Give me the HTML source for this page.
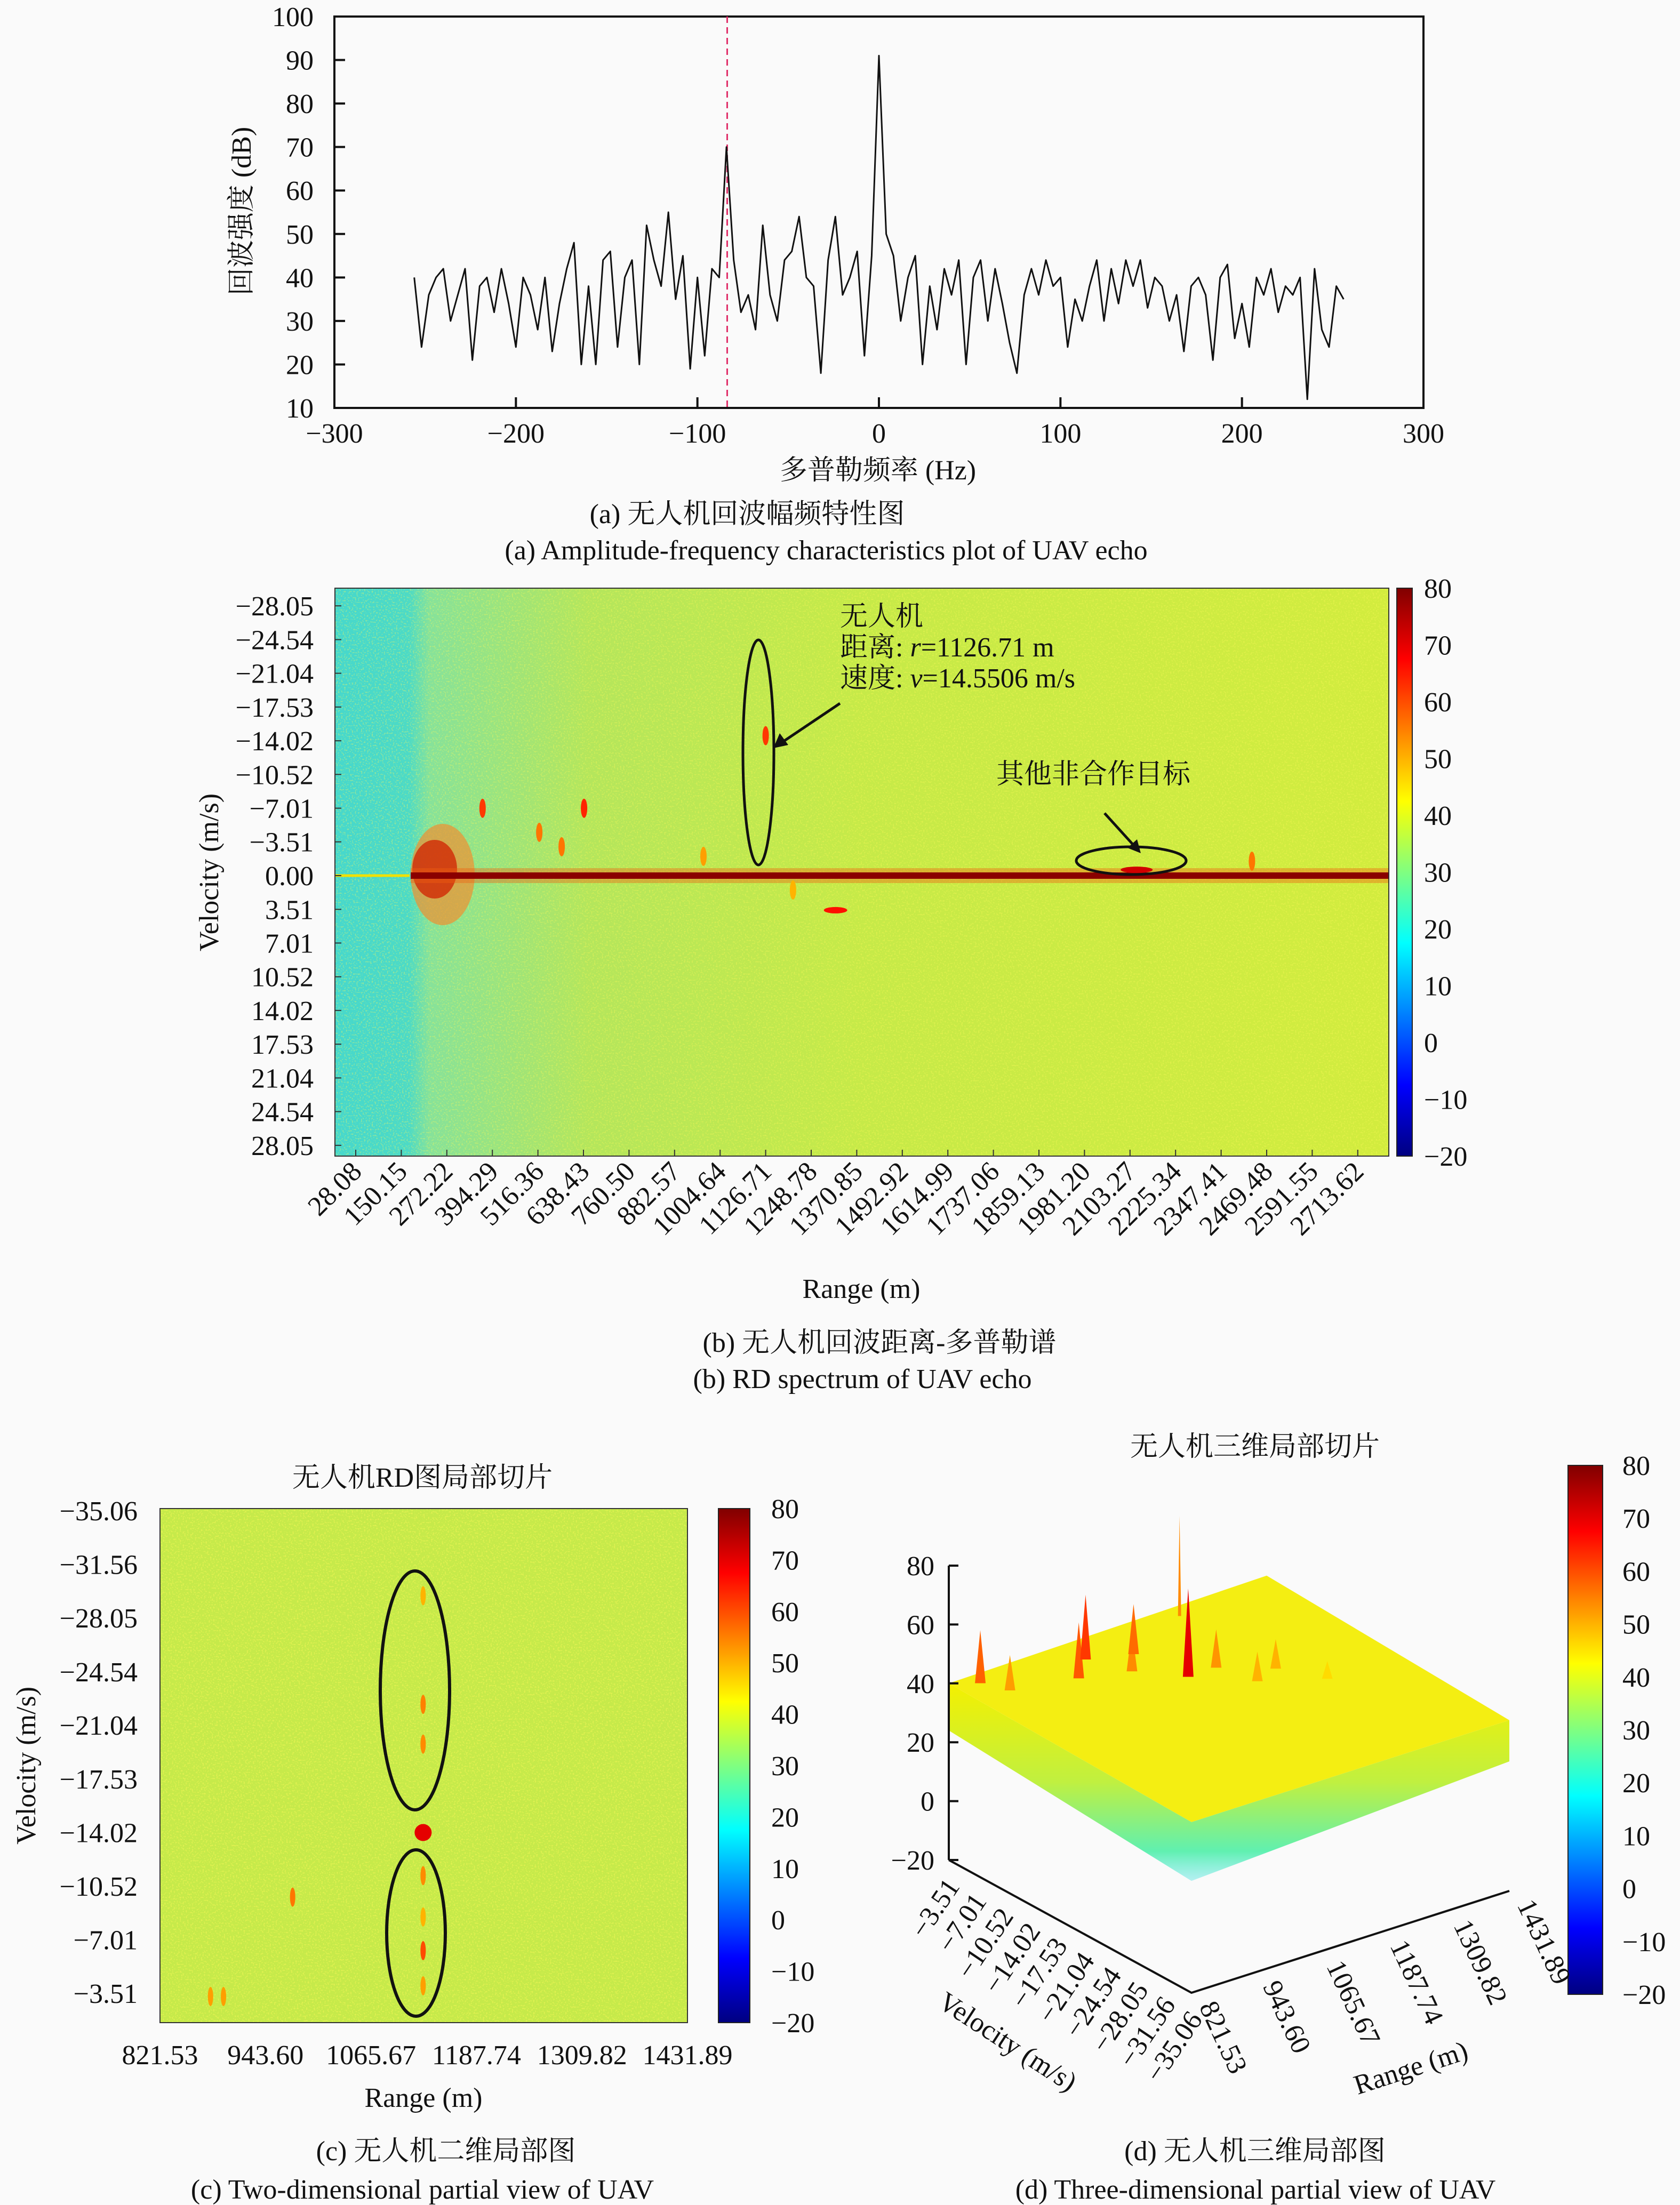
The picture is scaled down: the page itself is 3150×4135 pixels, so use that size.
<!DOCTYPE html>
<html><head><meta charset="utf-8"><style>
html,body{margin:0;padding:0;background:#fafafa}
svg{display:block}
text{font-family:"Liberation Serif","Noto Serif CJK SC","Noto Sans CJK SC",serif;fill:#111}
</style></head><body>
<svg id="fig" xmlns="http://www.w3.org/2000/svg" width="3150" height="4135" viewBox="0 0 3150 4135">
<defs>
<linearGradient id="jet" x1="0" y1="0" x2="0" y2="1">
<stop offset="0" stop-color="#800000"/><stop offset="0.125" stop-color="#ff0000"/><stop offset="0.25" stop-color="#ff8000"/><stop offset="0.375" stop-color="#ffff00"/><stop offset="0.5" stop-color="#80ff80"/><stop offset="0.625" stop-color="#00ffff"/><stop offset="0.75" stop-color="#0080ff"/><stop offset="0.875" stop-color="#0000ff"/><stop offset="1" stop-color="#000080"/>
</linearGradient>
<linearGradient id="bgB" x1="0" y1="0" x2="1" y2="0">
<stop offset="0" stop-color="#46d8cc"/><stop offset="0.07" stop-color="#4cdac6"/><stop offset="0.09" stop-color="#86e29a"/><stop offset="0.24" stop-color="#b4e65c"/><stop offset="0.5" stop-color="#c6ea48"/><stop offset="1" stop-color="#d2ec3e"/>
</linearGradient>
<linearGradient id="skirt" x1="0" y1="0" x2="0" y2="1">
<stop offset="0" stop-color="#f4f000"/><stop offset="0.5" stop-color="#c0f040"/><stop offset="0.85" stop-color="#60f0b0"/><stop offset="1" stop-color="#70e8e8" stop-opacity="0.5"/>
</linearGradient>
<filter id="speck" x="0" y="0" width="1" height="1"><feTurbulence type="fractalNoise" baseFrequency="0.35" numOctaves="1" seed="3"/><feColorMatrix values="0 0 0 0 1  0 0 0 0 0.95  0 0 0 0 0.1  0 0 0 6 -3.2"/></filter>
</defs>

<g id="pa">
<rect x="627" y="31" width="2042" height="734" fill="none" stroke="#111" stroke-width="4"/>
<text x="470" y="396" font-size="52" text-anchor="middle" transform="rotate(-90 470 396)">回波强度 (dB)</text>
<text x="1646" y="899" font-size="52" text-anchor="middle">多普勒频率 (Hz)</text>
<text x="1401" y="981" font-size="52" text-anchor="middle">(a) 无人机回波幅频特性图</text>
<text x="1549" y="1049" font-size="52" text-anchor="middle">(a) Amplitude-frequency characteristics plot of UAV echo</text>
</g>

<g id="pb">
<rect x="628" y="1103" width="1976" height="1065" fill="url(#bgB)"/>
<rect x="628" y="1103" width="1976" height="1065" filter="url(#speck)" opacity="0.35"/>
<g id="pbMarks"></g>
<rect x="628" y="1103" width="1976" height="1065" fill="none" stroke="#333" stroke-width="2"/>
<rect x="2619" y="1103" width="29" height="1065" fill="url(#jet)" stroke="#222" stroke-width="2"/>
<text x="409" y="1636" font-size="52" text-anchor="middle" transform="rotate(-90 409 1636)">Velocity (m/s)</text>
<text x="1615" y="2434" font-size="52" text-anchor="middle">Range (m)</text>
<text x="1649" y="2535" font-size="52" text-anchor="middle">(b) 无人机回波距离-多普勒谱</text>
<text x="1617" y="2603" font-size="52" text-anchor="middle">(b) RD spectrum of UAV echo</text>
<ellipse cx="1422" cy="1411" rx="29" ry="211" fill="none" stroke="#111" stroke-width="5"/>
<line x1="1575" y1="1319" x2="1465" y2="1393" stroke="#111" stroke-width="5"/>
<polygon points="1450,1403 1462,1375 1478,1397" fill="#111"/>
<text x="1575" y="1173" font-size="52">无人机</text>
<text x="1575" y="1231" font-size="52">距离: <tspan font-style="italic">r</tspan>=1126.71 m</text>
<text x="1575" y="1289" font-size="52">速度: <tspan font-style="italic">v</tspan>=14.5506 m/s</text>
<ellipse cx="2121" cy="1614" rx="103" ry="26" fill="none" stroke="#111" stroke-width="5"/>
<line x1="2071" y1="1525" x2="2130" y2="1590" stroke="#111" stroke-width="5"/>
<polygon points="2139,1600 2114,1590 2132,1574" fill="#111"/>
<text x="1868" y="1469" font-size="52">其他非合作目标</text>
</g>

<g id="pc">
<text x="792" y="2788" font-size="52" text-anchor="middle">无人机RD图局部切片</text>
<rect x="300" y="2829" width="989" height="964" fill="#c6ea4a"/>
<rect x="300" y="2829" width="989" height="964" filter="url(#speck)" opacity="0.45"/>
<g id="pcMarks"></g>
<rect x="300" y="2829" width="989" height="964" fill="none" stroke="#333" stroke-width="2"/>
<ellipse cx="778" cy="3170" rx="65" ry="224" fill="none" stroke="#111" stroke-width="6"/>
<ellipse cx="780" cy="3625" rx="55" ry="156" fill="none" stroke="#111" stroke-width="6"/>
<rect x="1347" y="2829" width="59" height="964" fill="url(#jet)" stroke="#222" stroke-width="2"/>
<text x="66" y="3311" font-size="52" text-anchor="middle" transform="rotate(-90 66 3311)">Velocity (m/s)</text>
<text x="794" y="3951" font-size="52" text-anchor="middle">Range (m)</text>
<text x="836" y="4051" font-size="52" text-anchor="middle">(c) 无人机二维局部图</text>
<text x="792" y="4123" font-size="52" text-anchor="middle">(c) Two-dimensional partial view of UAV</text>
</g>

<g id="pd">
<text x="2353" y="2730" font-size="52" text-anchor="middle">无人机三维局部切片</text>
<g id="pdMarks"></g>
<rect x="2940" y="2748" width="65" height="992" fill="url(#jet)" stroke="#222" stroke-width="2"/>
<text x="1890" y="3846" font-size="52" text-anchor="middle" transform="rotate(33 1890 3828)">Velocity (m/s)</text>
<text x="2645" y="3895" font-size="52" text-anchor="middle" transform="rotate(-18 2645 3877)">Range (m)</text>
<text x="2353" y="4051" font-size="52" text-anchor="middle">(d) 无人机三维局部图</text>
<text x="2354" y="4123" font-size="52" text-anchor="middle">(d) Three-dimensional partial view of UAV</text>
</g>
</svg>
<script>
const freqStart = -256, freqStep = 4;
const echoDb = [40,24,36,40,42,30,36,42,21,38,40,32,42,34,24,40,36,28,40,23,34,42,48,20,38,20,44,46,24,40,44,20,52,44,38,55,35,45,19,40,22,42,40,70,44,32,36,28,52,36,30,44,46,54,40,38,18,44,54,36,40,46,22,45,91,50,45,30,40,45,20,38,28,42,36,44,20,40,44,30,42,34,25,18,36,42,36,44,38,40,24,35,30,38,44,30,42,34,44,38,44,33,40,38,30,36,23,38,40,36,21,40,43,26,34,24,40,36,42,32,38,36,40,12,42,28,24,38,35];
const markerFreq = -83.6;
const xTicksA = [-300,-200,-100,0,100,200,300];
const yTicksA = [10,20,30,40,50,60,70,80,90,100];
const velTicksB = [-28.05,-24.54,-21.04,-17.53,-14.02,-10.52,-7.01,-3.51,0.00,3.51,7.01,10.52,14.02,17.53,21.04,24.54,28.05];
const rangeTicksB = [28.08,150.15,272.22,394.29,516.36,638.43,760.50,882.57,1004.64,1126.71,1248.78,1370.85,1492.92,1614.99,1737.06,1859.13,1981.20,2103.27,2225.34,2347.41,2469.48,2591.55,2713.62];
const cbTicks = [80,70,60,50,40,30,20,10,0,-10,-20];
const tgtRange = [1126.71, 2121, 368, 640, 580, 520, 1314, 1200, 2430, 960];
const tgtVel = [-14.55, -0.6, -7.0, -7.0, -3.0, -4.5, 3.6, 1.5, -1.5, -2.0];
const tgtDb = [62, 72, 62, 64, 56, 56, 66, 50, 56, 52];
const velTicksC = [-35.06,-31.56,-28.05,-24.54,-21.04,-17.53,-14.02,-10.52,-7.01,-3.51];
const rangeTicksC = [821.53,943.60,1065.67,1187.74,1309.82,1431.89];
const sliceRange = [1126, 1126, 1126, 1126, 1126, 1126, 1126, 1126, 975, 880, 895];
const sliceVel = [-14.02, -22.4, -19.8, -11.2, -6.3, -4.0, -29.5, -8.5, -9.8, -3.3, -3.3];
const sliceDb = [70, 55, 54, 54, 60, 52, 50, 50, 56, 52, 52];
const zTicksD = [-20,0,20,40,60,80];
const velTicksD = [-3.51,-7.01,-10.52,-14.02,-17.53,-21.04,-24.54,-28.05,-31.56,-35.06];
const rangeTicksD = [821.53,943.60,1065.67,1187.74,1309.82,1431.89];
const peakRange = [1126, 860, 880, 990, 1040, 1070, 1110, 1180, 1200, 1250, 1290, 1250];
const peakVel = [-14.02, -5.0, -7.5, -9.0, -6.5, -10.5, -8.0, -14.0, -18.0, -17.0, -21.0, -4.5];
const peakDb = [70, 58, 52, 59, 62, 54, 57, 53, 50, 50, 46, 74];

const NS = 'http://www.w3.org/2000/svg';
function mk(tag, attrs, parent){const e=document.createElementNS(NS,tag);for(const k in attrs)e.setAttribute(k,attrs[k]);(parent||document.getElementById('fig')).appendChild(e);return e;}
function fmt(v,d){const s=Math.abs(v).toFixed(d);return (v<0?'\u2212':'')+s;}
function jet(v){const t=Math.max(0,Math.min(1,(v+20)/100));
 const r=Math.max(0,Math.min(1,Math.min(4*t-1.5,-4*t+4.5))),g=Math.max(0,Math.min(1,Math.min(4*t-0.5,-4*t+3.5))),b=Math.max(0,Math.min(1,Math.min(4*t+0.5,-4*t+2.5)));
 return 'rgb('+Math.round(r*255)+','+Math.round(g*255)+','+Math.round(b*255)+')';}

const pa=document.getElementById('pa');
const xA=f=>627+(f+300)/600*2042, yA=v=>31+(100-v)/90*734;
xTicksA.forEach(t=>{
 const l=mk('line',{x1:xA(t),y1:765,x2:xA(t),y2:745,stroke:'#111','stroke-width':4},pa);
 
 
 const tx=mk('text',{x:xA(t),y:830,'font-size':52,'text-anchor':'middle'},pa);tx.textContent=fmt(t,0);
 
 
});
yTicksA.forEach(t=>{
 const l=mk('line',{x1:627,y1:yA(t),x2:647,y2:yA(t),stroke:'#111','stroke-width':4},pa);
 
 
 const tx=mk('text',{x:588,y:yA(t)+18,'font-size':52,'text-anchor':'end'},pa);tx.textContent=t;
 
 
});
const mline=mk('line',{x1:xA(markerFreq),y1:31,x2:xA(markerFreq),y2:765,stroke:'#e0306a','stroke-width':3,'stroke-dasharray':'12,8'},pa);


const pts=echoDb.map((v,i)=>xA(freqStart+i*freqStep).toFixed(1)+','+yA(v).toFixed(1)).join(' ');
const sp=mk('polyline',{points:pts,fill:'none',stroke:'#111','stroke-width':3,'stroke-linejoin':'round'},pa);



const pb=document.getElementById('pb'), pbm=document.getElementById('pbMarks');
const xB=r=>667+(r-28.08)/122.07*85.4, yB=v=>1642+v*(63.3/3.51);
const clut=mk('ellipse',{cx:830,cy:1640,rx:60,ry:95,fill:'#f09030',opacity:0.7},pbm);


const clut2=mk('ellipse',{cx:815,cy:1630,rx:42,ry:55,fill:'#d02000',opacity:0.75},pbm);


const zy=mk('line',{x1:628,y1:yB(0),x2:768,y2:yB(0),stroke:'#f0e000','stroke-width':5},pbm);


const zl2=mk('rect',{x:770,y:yB(0)-14,width:1834,height:28,fill:'#f06010',opacity:0.4},pbm);


const zl=mk('rect',{x:770,y:yB(0)-6,width:1834,height:12,fill:'#8a0000'},pbm);


tgtRange.forEach((r,i)=>{
 const e=mk('ellipse',{cx:xB(r),cy:yB(tgtVel[i]),rx:i===1?30:(i===6?22:6),ry:i===1?6:(i===6?6:18),fill:jet(tgtDb[i])},pbm);
 
 
});
velTicksB.forEach(v=>{
 const tx=mk('text',{x:588,y:yB(v)+18,'font-size':52,'text-anchor':'end'},pb);tx.textContent=fmt(v,2);
 
 
 const l=mk('line',{x1:628,y1:yB(v),x2:640,y2:yB(v),stroke:'#333','stroke-width':2},pb);
 
 
});
rangeTicksB.forEach(r=>{
 const x=xB(r);
 const tx=mk('text',{x:x+14,y:2200,'font-size':52,'text-anchor':'end',transform:'rotate(-45 '+(x+14)+' 2200)'},pb);tx.textContent=r.toFixed(2);
 
 
 const l=mk('line',{x1:x,y1:2168,x2:x,y2:2156,stroke:'#333','stroke-width':2},pb);
 
 
});
function cbar(parent,x,y0,y1,name){cbTicks.forEach(t=>{const y=y0+(80-t)/100*(y1-y0);
 const tx=mk('text',{x:x,y:y+18,'font-size':52,'text-anchor':'start'},parent);tx.textContent=fmt(t,0);
 
 });}
cbar(pb,2670,1103,2168,'colorbar-b-label');

const pc=document.getElementById('pc'), pcm=document.getElementById('pcMarks');
const xC=r=>300+(r-821.53)/610.36*989, yC=v=>2833+(v+35.06)/31.55*905;
sliceRange.forEach((r,i)=>{
 const e=mk('ellipse',{cx:xC(r),cy:yC(sliceVel[i]),rx:i===0?16:5,ry:i===0?16:18,fill:jet(sliceDb[i])},pcm);
 
 
});
velTicksC.forEach(v=>{
 const tx=mk('text',{x:258,y:yC(v)+18,'font-size':52,'text-anchor':'end'},pc);tx.textContent=fmt(v,2);
 
 
});
rangeTicksC.forEach(r=>{
 const tx=mk('text',{x:xC(r),y:3871,'font-size':52,'text-anchor':'middle'},pc);tx.textContent=r.toFixed(2);
 
 
});
cbar(pc,1446,2829,3793,'colorbar-c-label');

const pd=document.getElementById('pd'), pdm=document.getElementById('pdMarks');
function proj(r,v,z){const fv=(v+3.51)/(-31.55), fr=(r-821.53)/610.36;
 return [1779+fv*455+fr*596, 3488+fv*249-fr*191-(z+20)*5.52];}
const cL=proj(821.53,-3.51,40),cF=proj(821.53,-35.06,38),cR=proj(1431.89,-35.06,38),cT=proj(1431.89,-3.51,42);
const cLb=proj(821.53,-3.51,24),cFb=proj(821.53,-35.06,18),cRb=proj(1431.89,-35.06,24);
const skirtPoly=mk('polygon',{points:[cL,cF,cR,cRb,cFb,cLb].map(p=>p.join(',')).join(' '),fill:'url(#skirt)'},pdm);


const topFace=mk('polygon',{points:[cL,cT,cR,cF].map(p=>p.join(',')).join(' '),fill:'#f4ee12'},pdm);


peakRange.forEach((r,i)=>{
 const a=proj(r,peakVel[i],peakDb[i]), b=proj(r,peakVel[i],40);
 const w=i===11?3:10;
 const pk=mk('polygon',{points:(b[0]-w)+','+b[1]+' '+a[0]+','+a[1]+' '+(b[0]+w)+','+b[1],fill:jet(peakDb[i]-(i===11?20:0))},pdm);
 
 
});
const z0=proj(821.53,-3.51,-20), z1=proj(821.53,-3.51,80);
const za=mk('line',{x1:z0[0],y1:z0[1],x2:z1[0],y2:z1[1],stroke:'#111','stroke-width':4},pd);


zTicksD.forEach(z=>{const p=proj(821.53,-3.51,z);
 const l=mk('line',{x1:p[0],y1:p[1],x2:p[0]+18,y2:p[1],stroke:'#111','stroke-width':4},pd);
 
 
 const tx=mk('text',{x:1752,y:p[1]+18,'font-size':52,'text-anchor':'end'},pd);tx.textContent=fmt(z,0);
 
 
});
const v0=proj(821.53,-3.51,-20), v1=proj(821.53,-35.06,-20), r1=proj(1431.89,-35.06,-20);
const va=mk('polyline',{points:v0.join(',')+' '+v1.join(',')+' '+r1.join(','),fill:'none',stroke:'#111','stroke-width':4},pd);


velTicksD.forEach(v=>{const p=proj(821.53,v,-20);
 const tx=mk('text',{x:p[0]+22,y:p[1]+50,'font-size':52,'text-anchor':'end',transform:'rotate(-56 '+(p[0]+22)+' '+(p[1]+50)+')'},pd);tx.textContent=fmt(v,2);
 
 
});
rangeTicksD.forEach(r=>{const p=proj(r,-35.06,-20);
 const tx=mk('text',{x:p[0]+14,y:p[1]+26,'font-size':52,'text-anchor':'start',transform:'rotate(65 '+(p[0]+14)+' '+(p[1]+26)+')'},pd);tx.textContent=r.toFixed(2);
 
 
});
cbar(pd,3042,2748,3740,'colorbar-d-label');
</script>
</body></html>
